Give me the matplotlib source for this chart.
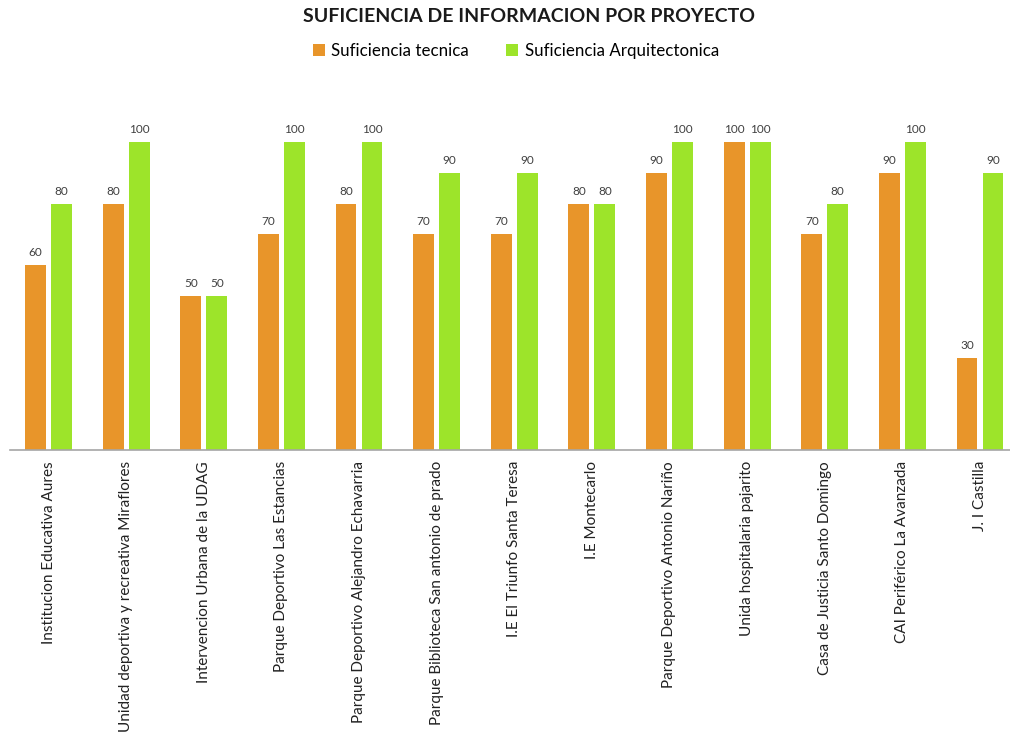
import matplotlib
matplotlib.use("Agg")
import matplotlib.pyplot as plt
import numpy as np

plt.rcParams['font.family'] = ['Lato', 'DejaVu Sans']

proyectos = [
    "Institucion Educativa Aures",
    "Unidad deportiva y recreativa Miraflores",
    "Intervencion Urbana de la UDAG",
    "Parque Deportivo Las Estancias",
    "Parque Deportivo Alejandro Echavarria",
    "Parque Biblioteca San antonio de prado",
    "I.E El Triunfo Santa Teresa",
    "I.E Montecarlo",
    "Parque Deportivo Antonio Nariño",
    "Unida hospitalaria pajarito",
    "Casa de Justicia Santo Domingo",
    "CAI Periférico La Avanzada",
    "J. I Castilla",
]
suf_tecnica = [60, 80, 50, 70, 80, 70, 70, 80, 90, 100, 70, 90, 30]
suf_arquitectonica = [80, 100, 50, 100, 100, 90, 90, 80, 100, 100, 80, 100, 90]

color_tec = "#E8952A"
color_arq = "#9DE42A"

W, H = 1010, 740
fig = plt.figure(figsize=(W / 100, H / 100), dpi=100)

# axes in pixel coordinates: baseline at y=450, value 100 at y=142
left_px, right_px = 9.7, 1018.8
base_px, top_px = 450, 142
ax = fig.add_axes([left_px / W, (H - base_px) / H,
                   (right_px - left_px) / W, (base_px - top_px) / H])

x = np.arange(len(proyectos))
bw = 0.27
off = 0.1675
b1 = ax.bar(x - off, suf_tecnica, bw, color=color_tec, label="Suficiencia tecnica")
b2 = ax.bar(x + off, suf_arquitectonica, bw, color=color_arq, label="Suficiencia Arquitectonica")

for bars, vals in ((b1, suf_tecnica), (b2, suf_arquitectonica)):
    for r, v in zip(bars, vals):
        ax.annotate(f"{v}", (r.get_x() + r.get_width() / 2, v),
                    xytext=(0, 5), textcoords="offset points",
                    ha="center", va="bottom", fontsize=8.5, color="#404040",
                    clip_on=False)

ax.set_xlim(-0.5, len(proyectos) - 0.5)
ax.set_ylim(0, 100)
ax.set_xticks(x)
ax.set_xticklabels(proyectos, rotation=90, fontsize=11, color="#222222")
ax.tick_params(axis="x", length=0, pad=8)
ax.set_yticks([])
for s in ("top", "right", "left"):
    ax.spines[s].set_visible(False)
ax.spines["bottom"].set_color("#a6a6a6")
ax.spines["bottom"].set_linewidth(1.2)

fig.text(529 / W, 1 - 17 / H, "SUFICIENCIA DE INFORMACION POR PROYECTO",
         ha="center", va="center", fontsize=14, fontweight="bold", color="#1a1a1a")

fig.legend(handles=[b1, b2], loc="center", bbox_to_anchor=(516 / W, 1 - 51 / H),
           ncol=2, frameon=False, fontsize=12.2, handlelength=0.7, handleheight=0.7,
           handletextpad=0.4, columnspacing=2.2)

fig.savefig("out.png", dpi=100)
